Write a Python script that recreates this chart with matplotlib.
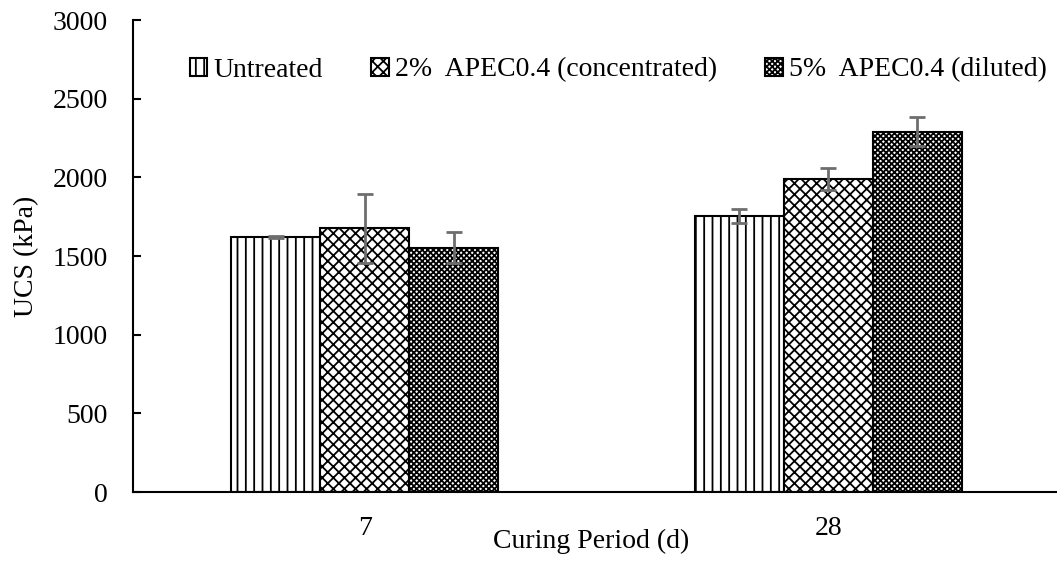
import matplotlib
matplotlib.use("Agg")
import matplotlib.pyplot as plt
import numpy as np

plt.rcParams['font.family'] = ['Liberation Serif', 'DejaVu Serif']
plt.rcParams['hatch.linewidth'] = 1.3

periods = ["7", "28"]
series = ["Untreated", "2%  APEC0.4 (concentrated)", "5%  APEC0.4 (diluted)"]
untreated = [1620, 1755]
conc = [1677, 1989]
dil = [1553, 2290]
untreated_err = [5, 43]
conc_err = [219, 72]
dil_err = [97, 91]

values = [untreated, conc, dil]
errors = [untreated_err, conc_err, dil_err]
hatches = ['||', 'xxx', 'xxxxxx']

FS = 20
fig = plt.figure(figsize=(10.57, 5.63), dpi=100)
W, H = 1057, 563
left, right, top, bottom = 133, 1060, 20, 492
ax = fig.add_axes([left / W, 1 - bottom / H, (right - left) / W, (bottom - top) / H])

x = np.arange(len(periods))
bw = 0.192
for i, (vals, errs, h, lab) in enumerate(zip(values, errors, hatches, series)):
    pos = x + (i - 1) * bw
    ax.bar(pos, vals, bw, color='white', edgecolor='black', linewidth=1.5, hatch=h, label=lab)
    ax.errorbar(pos, vals, yerr=errs, fmt='none', ecolor='#6e6e6e', elinewidth=2, capsize=6, capthick=2)

ax.set_xlim(-0.5, 1.5)
ax.set_ylim(0, 3000)
ax.set_yticks(np.arange(0, 3001, 500))
ax.set_xticks(x)
ax.set_xticklabels(periods)
ax.tick_params(axis='y', direction='in', length=6, width=1.5, labelsize=FS, pad=18)
ax.tick_params(axis='x', length=0, labelsize=FS, pad=17)
for s in ['top', 'right']:
    ax.spines[s].set_visible(False)
for s in ['left', 'bottom']:
    ax.spines[s].set_linewidth(1.5)

fig.text(27 / W, 1 - 256 / H, "UCS (kPa)", rotation=90, ha='center', va='center', fontsize=FS)
fig.text(591 / W, 1 - 541 / H, "Curing Period (d)", ha='center', va='center', fontsize=FS)

leg = ax.legend(loc='center left', ncol=3, frameon=False, fontsize=FS,
                handlelength=0.62, handleheight=0.6,
                handletextpad=0.22, columnspacing=1.75, borderaxespad=0, borderpad=0)
leg.set_bbox_to_anchor(((190 - left) / (right - left), (bottom - 70) / (bottom - top)), transform=ax.transAxes)

fig.savefig("out.png", dpi=100)
